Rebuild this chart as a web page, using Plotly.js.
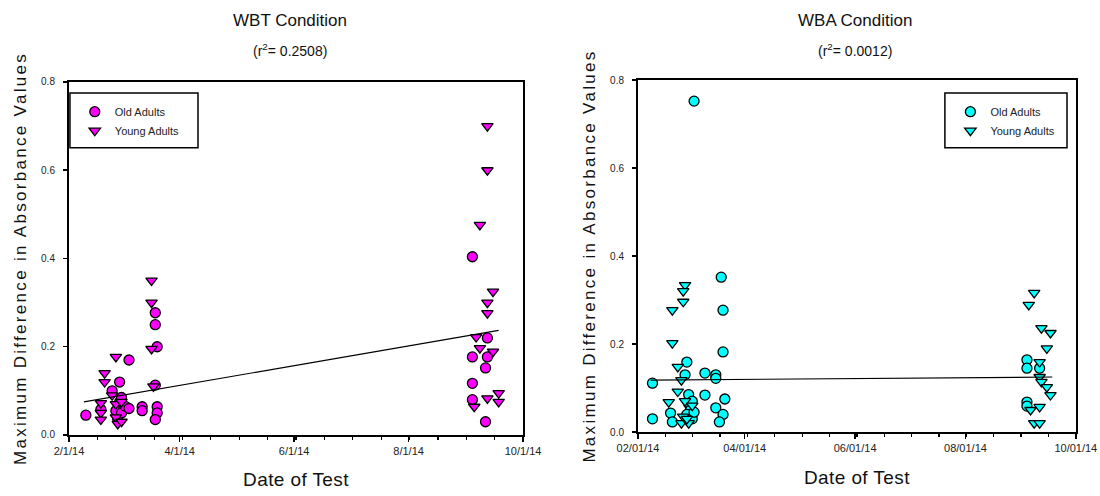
<!DOCTYPE html>
<html>
<head>
<meta charset="utf-8">
<script src="https://cdn.plot.ly/plotly-3.0.1.min.js"></script>
<style>
  html, body { margin: 0; padding: 0; background: #ffffff; }
  #chart { width: 1100px; height: 496px; }
  .ytitle, .y2title { letter-spacing: 2.3px; }
  .xtitle, .x2title { letter-spacing: 0.4px; }
</style>
</head>
<body>
<div id="chart"></div>
<script>
// WBT condition: old adults
const wbtOldDates = ['2014-02-10','2014-02-18','2014-02-24','2014-02-26','2014-02-27','2014-02-28','2014-02-28','2014-03-01','2014-03-01','2014-03-03','2014-03-05','2014-03-05','2014-03-12','2014-03-12','2014-03-19','2014-03-19','2014-03-20','2014-03-19','2014-03-20','2014-03-20','2014-03-19','2014-09-04','2014-09-04','2014-09-04','2014-09-04','2014-09-12','2014-09-12','2014-09-11','2014-09-11'];
const wbtOldValues = [0.045,0.058,0.100,0.055,0.035,0.120,0.075,0.085,0.050,0.065,0.170,0.060,0.064,0.055,0.277,0.250,0.200,0.113,0.064,0.050,0.035,0.404,0.177,0.117,0.080,0.220,0.177,0.152,0.030];

// WBT condition: young adults
const wbtYoungDates = ['2014-02-18','2014-02-18','2014-02-18','2014-02-20','2014-02-20','2014-02-26','2014-02-24','2014-02-26','2014-02-26','2014-02-27','2014-03-01','2014-03-01','2014-03-17','2014-03-17','2014-03-17','2014-03-18','2014-09-12','2014-09-12','2014-09-08','2014-09-15','2014-09-12','2014-09-12','2014-09-06','2014-09-08','2014-09-15','2014-09-05','2014-09-12','2014-09-18','2014-09-18'];
const wbtYoungValues = [0.072,0.050,0.035,0.140,0.120,0.177,0.090,0.070,0.040,0.025,0.075,0.030,0.350,0.300,0.195,0.110,0.700,0.600,0.476,0.325,0.300,0.276,0.222,0.197,0.189,0.064,0.083,0.095,0.075];

// WBT regression line (r² = 0.2508)
const wbtFitDates = ['2014-02-09','2014-09-18'];
const wbtFitValues = [0.075,0.237];

// WBA condition: old adults
const wbaOldDates = ['2014-02-09','2014-02-09','2014-02-19','2014-02-20','2014-03-04','2014-02-28','2014-02-27','2014-03-01','2014-03-01','2014-03-03','2014-03-02','2014-02-28','2014-03-03','2014-03-04','2014-03-10','2014-03-10','2014-03-16','2014-03-16','2014-03-19','2014-03-20','2014-03-20','2014-03-21','2014-03-16','2014-03-20','2014-03-18','2014-09-04','2014-09-04','2014-09-11','2014-09-04','2014-09-04'];
const wbaOldValues = [0.111,0.030,0.043,0.023,0.752,0.159,0.130,0.085,0.065,0.070,0.050,0.040,0.030,0.045,0.134,0.084,0.130,0.122,0.352,0.277,0.182,0.075,0.055,0.040,0.023,0.164,0.145,0.145,0.068,0.059];

// WBA condition: young adults
const wbaYoungDates = ['2014-02-20','2014-02-20','2014-02-18','2014-02-27','2014-02-26','2014-02-26','2014-02-23','2014-02-25','2014-02-23','2014-02-27','2014-02-26','2014-02-25','2014-03-01','2014-03-03','2014-02-28','2014-09-08','2014-09-05','2014-09-12','2014-09-17','2014-09-15','2014-09-11','2014-09-11','2014-09-12','2014-09-15','2014-09-17','2014-09-11','2014-09-06','2014-09-08','2014-09-11'];
const wbaYoungValues = [0.277,0.202,0.068,0.334,0.320,0.296,0.148,0.118,0.092,0.070,0.035,0.020,0.020,0.060,0.030,0.316,0.289,0.236,0.225,0.190,0.159,0.125,0.114,0.102,0.084,0.057,0.050,0.020,0.020];

// WBA regression line (r² = 0.0012)
const wbaFitDates = ['2014-02-08','2014-09-18'];
const wbaFitValues = [0.118,0.125];

const seriesNames = ['Old Adults','Young Adults'];
const xTickLabelFormats = ['%-m/%-d/%y','%m/%d/%y'];

const FONT = 'Liberation Sans, Arial, sans-serif';
const MAGENTA = '#ff00ff';
const CYAN = '#00ffff';

function markerStyle(color, symbol) {
  return { color: color, symbol: symbol, size: 10, line: { color: '#000000', width: 1.3 } };
}

const traces = [
  { x: wbtOldDates, y: wbtOldValues, type: 'scatter', mode: 'markers', name: seriesNames[0],
    marker: markerStyle(MAGENTA, 'circle'), xaxis: 'x', yaxis: 'y', legend: 'legend' },
  { x: wbtYoungDates, y: wbtYoungValues, type: 'scatter', mode: 'markers', name: seriesNames[1],
    marker: markerStyle(MAGENTA, 'triangle-down'), xaxis: 'x', yaxis: 'y', legend: 'legend' },
  { x: wbtFitDates, y: wbtFitValues, type: 'scatter', mode: 'lines', showlegend: false,
    line: { color: '#000000', width: 1.2 }, xaxis: 'x', yaxis: 'y' },
  { x: wbaOldDates, y: wbaOldValues, type: 'scatter', mode: 'markers', name: seriesNames[0],
    marker: markerStyle(CYAN, 'circle'), xaxis: 'x2', yaxis: 'y2', legend: 'legend2' },
  { x: wbaYoungDates, y: wbaYoungValues, type: 'scatter', mode: 'markers', name: seriesNames[1],
    marker: markerStyle(CYAN, 'triangle-down'), xaxis: 'x2', yaxis: 'y2', legend: 'legend2' },
  { x: wbaFitDates, y: wbaFitValues, type: 'scatter', mode: 'lines', showlegend: false,
    line: { color: '#000000', width: 1.2 }, xaxis: 'x2', yaxis: 'y2' }
];

const HALF_MONTH_MS = 15.125 * 86400000;

function dateAxis(domain, fmt) {
  return {
    type: 'date', domain: domain, range: ['2014-02-01', '2014-10-01'],
    tick0: '2014-02-01', dtick: 'M2', tickformat: fmt,
    ticks: 'outside', ticklen: 5, tickwidth: 1.5, tickcolor: '#000',
    minor: { ticks: 'outside', ticklen: 3, tickwidth: 1.2, tickcolor: '#000', tick0: '2014-02-01', dtick: HALF_MONTH_MS },
    showline: true, linewidth: 2, linecolor: '#000', mirror: true,
    showgrid: false, zeroline: false,
    tickfont: { family: FONT, size: 11, color: '#222' },
    ticklabelstandoff: 0,
    title: { text: 'Date of Test', font: { family: FONT, size: 19, color: '#111' }, standoff: 17 }
  };
}

function valueAxis(domain) {
  return {
    domain: domain, range: [0, 0.8], tick0: 0, dtick: 0.2, tickformat: '.1f',
    ticks: 'outside', ticklen: 4, tickwidth: 1.5, tickcolor: '#000',
    showline: true, linewidth: 2, linecolor: '#000', mirror: true,
    showgrid: false, zeroline: false,
    tickfont: { family: FONT, size: 10, color: '#222' },
    ticklabelstandoff: 6,
    title: { text: 'Maximum Difference in Absorbance Values', font: { family: FONT, size: 17, color: '#111' }, standoff: 10 }
  };
}

function legendBox(x, y) {
  return {
    x: x, y: y, xanchor: 'left', yanchor: 'top', xref: 'paper', yref: 'paper',
    bgcolor: 'rgba(0,0,0,0)', borderwidth: 0,
    font: { family: FONT, size: 11, color: '#222' },
    itemwidth: 30, tracegroupgap: 0
  };
}

const layout = {
  width: 1100, height: 496,
  margin: { l: 0, r: 0, t: 0, b: 0 },
  paper_bgcolor: '#ffffff', plot_bgcolor: '#ffffff',
  showlegend: true,
  xaxis: dateAxis([0.0627, 0.4755], xTickLabelFormats[0]),
  yaxis: valueAxis([0.123, 0.8347]),
  xaxis2: Object.assign(dateAxis([0.58, 0.978], xTickLabelFormats[1]), { anchor: 'y2' }),
  yaxis2: Object.assign(valueAxis([0.129, 0.8387]), { anchor: 'x2' }),
  legend: legendBox(0.068, 0.804),
  legend2: legendBox(0.864, 0.804),
  shapes: [
    { type: 'rect', xref: 'paper', yref: 'paper', x0: 0.0636, x1: 0.18, y0: 0.702, y1: 0.8125,
      line: { color: '#000', width: 1.5 }, fillcolor: 'rgba(0,0,0,0)' },
    { type: 'rect', xref: 'paper', yref: 'paper', x0: 0.859, x1: 0.970, y0: 0.702, y1: 0.8125,
      line: { color: '#000', width: 1.5 }, fillcolor: 'rgba(0,0,0,0)' }
  ],
  annotations: [
    { text: 'WBT Condition', xref: 'paper', yref: 'paper', x: 0.264, y: 0.958, xanchor: 'center', yanchor: 'middle',
      showarrow: false, font: { family: FONT, size: 17, color: '#111' } },
    { text: '(r<sup>2</sup>= 0.2508)', xref: 'paper', yref: 'paper', x: 0.264, y: 0.9, xanchor: 'center', yanchor: 'middle',
      showarrow: false, font: { family: FONT, size: 14, color: '#111' } },
    { text: 'WBA Condition', xref: 'paper', yref: 'paper', x: 0.777, y: 0.958, xanchor: 'center', yanchor: 'middle',
      showarrow: false, font: { family: FONT, size: 17, color: '#111' } },
    { text: '(r<sup>2</sup>= 0.0012)', xref: 'paper', yref: 'paper', x: 0.777, y: 0.9, xanchor: 'center', yanchor: 'middle',
      showarrow: false, font: { family: FONT, size: 14, color: '#111' } }
  ]
};

Plotly.newPlot('chart', traces, layout, { staticPlot: true, displayModeBar: false });
</script>
</body>
</html>
